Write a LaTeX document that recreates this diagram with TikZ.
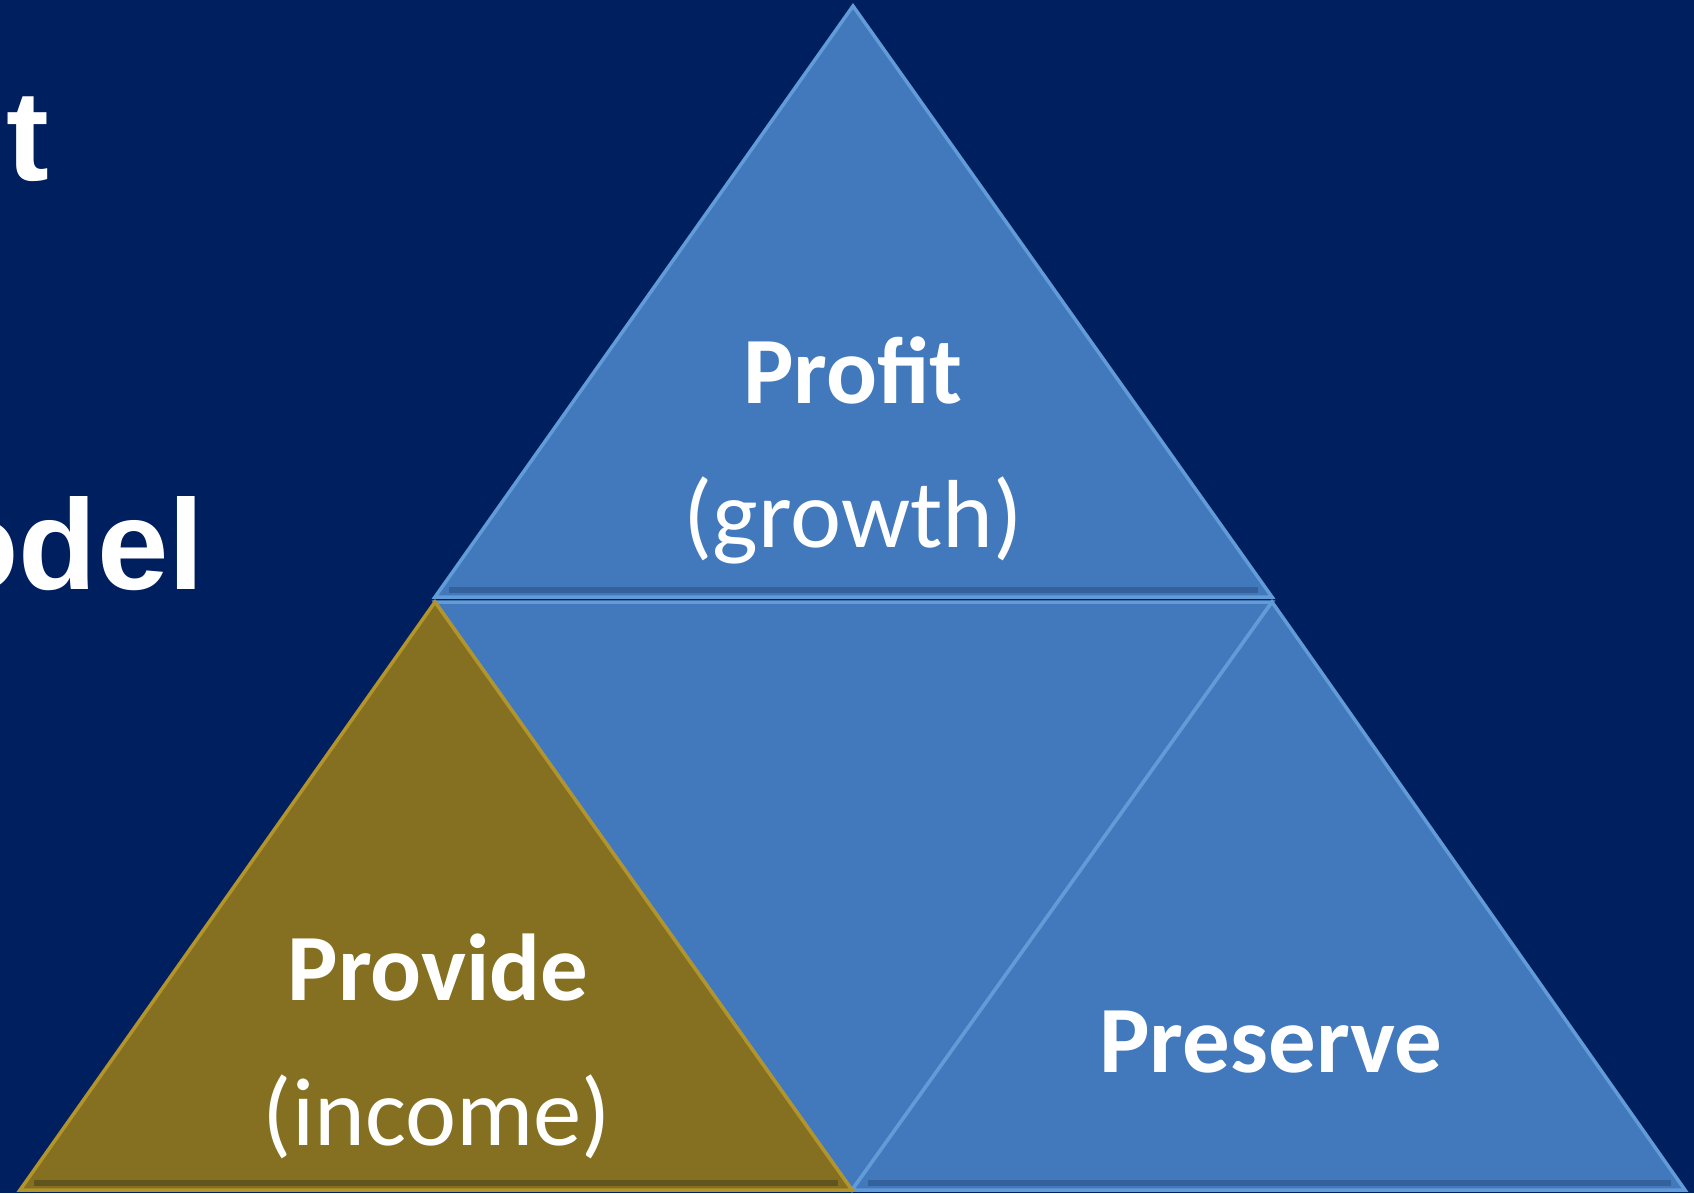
\documentclass[tikz,border=0pt]{standalone}
\usepackage{fontspec}
\setmainfont{Carlito}
\newfontfamily\headfont{Liberation Sans}

\definecolor{navy}{RGB}{0,31,95}
\definecolor{tileblue}{RGB}{66,121,189}
\definecolor{tileedge}{RGB}{98,156,216}
\definecolor{tiledark}{RGB}{52,96,155}
\definecolor{tilegold}{RGB}{132,112,32}
\definecolor{goldedge}{RGB}{178,148,42}
\definecolor{golddark}{RGB}{98,84,30}

\tikzset{
  tile/.style={fill=tileblue, draw=tileedge, line width=0.035cm, line join=miter},
  goldtile/.style={tile, fill=tilegold, draw=goldedge},
  bigword/.style={text=white, font=\fontsize{27}{31}\selectfont\bfseries, inner sep=0pt, anchor=base},
  smallword/.style={text=white, font=\fontsize{27.5}{32}\selectfont, inner sep=0pt, anchor=base},
  headword/.style={text=white, font=\headfont\fontsize{36.5}{42}\selectfont\bfseries, inner sep=0pt, anchor=base east}
}

\begin{document}
\begin{tikzpicture}[x=0.01cm, y=-0.01cm]
      \useasboundingbox (0,0) rectangle (1694,1193);
      \fill[navy] (0,0) rectangle (1694,1193);
      \clip (0,0) rectangle (1694,1193);

      \coordinate (apex) at (853,6);
      \coordinate (ul) at (435,597);
      \coordinate (ur) at (1272,597);
      \coordinate (ml) at (435,602);
      \coordinate (mr) at (1272,602);
      \coordinate (bl) at (20,1190);
      \coordinate (bm) at (852,1190);
      \coordinate (br) at (1685,1190);

      \draw[tile] (apex) -- (ul) -- (ur) -- cycle;
      \draw[tile] (ml) -- (mr) -- (bm) -- cycle;
      \draw[tile] (mr) -- (bm) -- (br) -- cycle;
      \draw[goldtile] (ml) -- (bl) -- (bm) -- cycle;

      \draw[tiledark, line width=0.06cm] (449,590) -- (1258,590);
      \draw[tiledark, line width=0.06cm] (868,1183) -- (1671,1183);
      \draw[golddark, line width=0.06cm] (34,1183) -- (838,1183);

      \node[headword] (tline) at (50,180) {t};
      \node[headword] (mline) at (205,589) {odel};

      \node[bigword] (profit) at (853,403) {Profit};
      \node[smallword] (growth) at (853,547) {(growth)};
      \node[bigword] (provide) at (438,1000) {Provide};
      \node[smallword] (income) at (437,1145) {(income)};
      \node[bigword] (preserve) at (1271,1072) {Preserve};

    \end{tikzpicture}
\end{document}
